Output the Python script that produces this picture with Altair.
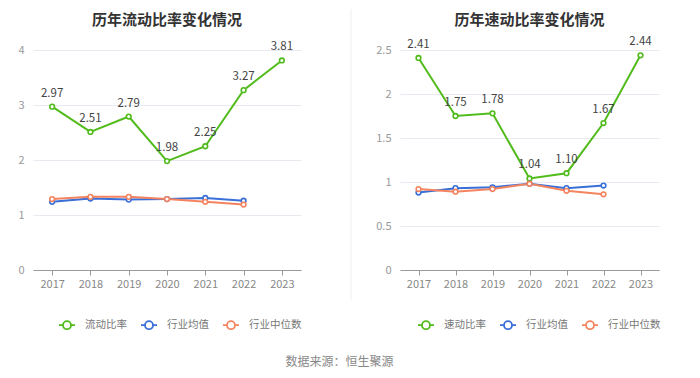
import altair as alt
import pandas as pd

years = ["2017", "2018", "2019", "2020", "2021", "2022", "2023"]
ind_years = years[:6]

current_ratio = [2.97, 2.51, 2.79, 1.98, 2.25, 3.27, 3.81]
current_avg = [1.24, 1.30, 1.28, 1.29, 1.31, 1.26]
current_median = [1.29, 1.33, 1.33, 1.29, 1.24, 1.19]

quick_ratio = [2.41, 1.75, 1.78, 1.04, 1.10, 1.67, 2.44]
quick_avg = [0.88, 0.93, 0.94, 0.98, 0.93, 0.96]
quick_median = [0.92, 0.89, 0.92, 0.98, 0.90, 0.86]

left_series = ["流动比率", "行业均值", "行业中位数"]
right_series = ["速动比率", "行业均值", "行业中位数"]
colors = ["#52bb1c", "#3b6fd8", "#f4845f"]

left_title = "历年流动比率变化情况"
right_title = "历年速动比率变化情况"
source_text = "数据来源：恒生聚源"

FONT = "Noto Sans CJK SC"
LEGEND_PATH = ("M-1,0L-0.5,0M0.5,0L1,0"
               "M-0.5,0A0.5,0.5,0,1,1,0.5,0A0.5,0.5,0,1,1,-0.5,0Z")


def make_df(names, main, avg, med):
    rows = []
    for y, v in zip(years, main):
        rows.append({"year": y, "value": v, "series": names[0]})
    for y, v in zip(ind_years, avg):
        rows.append({"year": y, "value": v, "series": names[1]})
    for y, v in zip(ind_years, med):
        rows.append({"year": y, "value": v, "series": names[2]})
    return pd.DataFrame(rows)


def panel(names, main, avg, med, ymax, yvals, width, title, legend_x,
          divider_x, divider_opacity):
    df = make_df(names, main, avg, med)
    x = alt.X("year:O", title=None,
              scale=alt.Scale(type="point", padding=0.5, domain=years),
              axis=alt.Axis(labelAngle=0, domainColor="#9a9a9a", tickColor="#9a9a9a",
                            tickSize=5, labelColor="#888", labelFontSize=11,
                            labelFont=FONT, labelPadding=3, grid=False))
    y = alt.Y("value:Q", title=None,
              scale=alt.Scale(domain=[0, ymax], nice=False, zero=True),
              axis=alt.Axis(values=yvals, format="~g", domain=False, ticks=False,
                            labelColor="#999", labelFontSize=11, labelFont=FONT,
                            labelPadding=9, gridColor="#e9e9f2", gridWidth=1))
    color_scale = alt.Scale(domain=names, range=colors)
    base = alt.Chart(df).encode(x=x, y=y)
    line = base.mark_line(strokeWidth=2).encode(
        color=alt.Color("series:N", scale=color_scale, sort=names,
                        legend=alt.Legend(title=None, orient="none", direction="horizontal",
                                          legendX=legend_x, legendY=266,
                                          symbolType=LEGEND_PATH, symbolSize=256,
                                          symbolStrokeWidth=1.8, symbolFillColor="white",
                                          labelFont=FONT, labelFontSize=10.5, labelColor="#777",
                                          labelOffset=9, columnPadding=10)))
    pts = base.mark_point(shape="circle", filled=False, fill="white", size=22,
                          strokeWidth=1.6, opacity=1).encode(
        color=alt.Color("series:N", scale=color_scale, legend=None))
    txt = alt.Chart(df[df["series"] == names[0]]).mark_text(
        dy=-13, fontSize=11.5, font=FONT, color="#444").encode(
        x=x, y=y, text=alt.Text("value:Q", format=".2f"))
    divider = alt.Chart(pd.DataFrame({"d": [0]})).mark_rule(
        color="#efefef", strokeWidth=1, opacity=divider_opacity).encode(
        x=alt.value(divider_x), y=alt.value(-41), y2=alt.value(250))
    return alt.layer(divider, line, pts, txt).properties(
        width=width, height=220,
        title=alt.TitleParams(title, fontSize=15, fontWeight="bold", color="#333",
                              font=FONT, anchor="middle", frame="group", offset=-19))


left = panel(left_series, current_ratio, current_avg, current_median, 4,
             [0, 1, 2, 3, 4], 268, left_title, 25, 318, 1)
right = panel(right_series, quick_ratio, quick_avg, quick_median, 2.5,
              [0, 0.5, 1, 1.5, 2, 2.5], 259, right_title, 17, 0, 0)

chart = alt.hconcat(left, right, spacing=23).resolve_scale(
    color="independent").resolve_legend(color="independent").properties(
    padding={"left": 9, "top": 0, "right": 5, "bottom": 0},
    title=alt.TitleParams(source_text, orient="bottom", anchor="middle", fontSize=12,
                          fontWeight="normal", color="#888", font=FONT, offset=24)
).configure_view(stroke=None)

chart.save("out.html", embed_options={"renderer": "svg", "actions": False})
